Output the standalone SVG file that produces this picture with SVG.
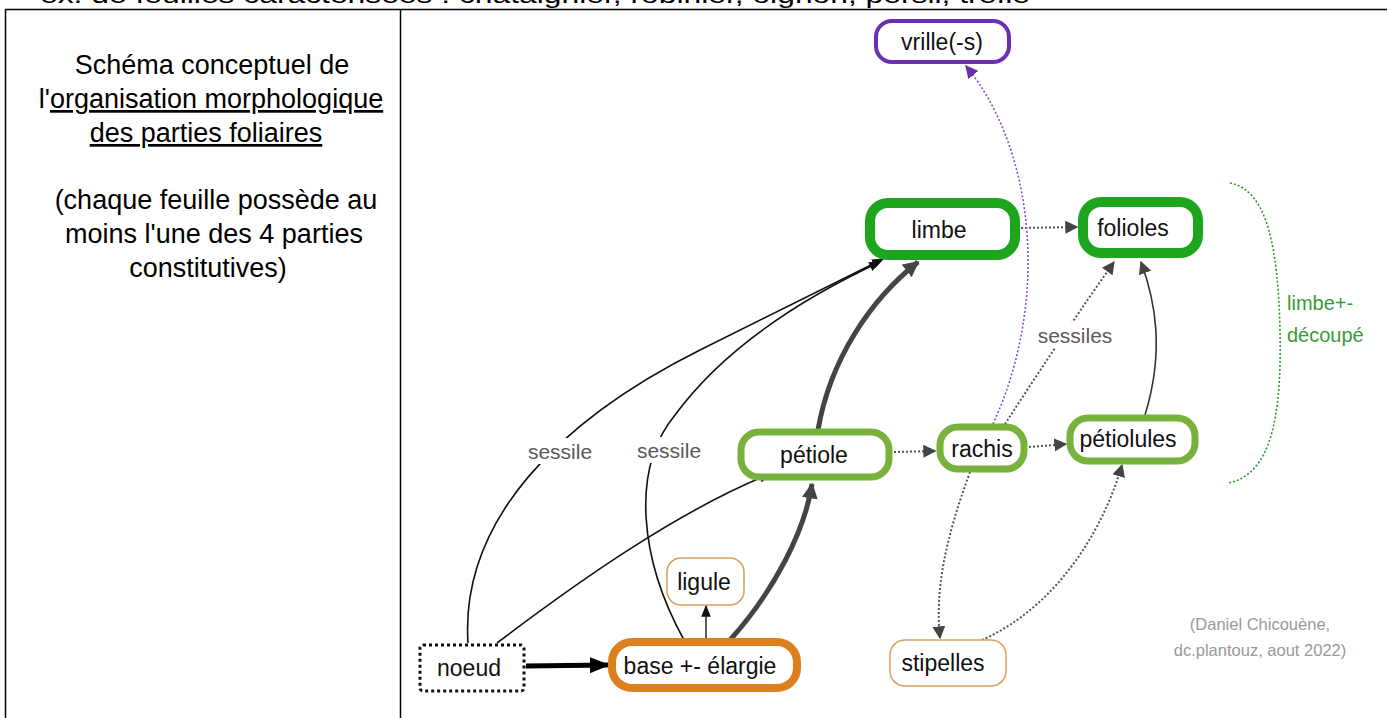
<svg xmlns="http://www.w3.org/2000/svg" width="1387" height="718" viewBox="0 0 1387 718">
<style>
.t{font-family:"Liberation Sans",Arial,sans-serif;}
.head{font-size:24px;fill:#000;}
.lft{font-size:27px;fill:#000;text-anchor:middle;}
.nt{font-size:23px;fill:#111;text-anchor:middle;}
.lbl{font-size:21px;fill:#5a5a5a;text-anchor:middle;}
.grn{font-size:20px;fill:#3a9a3a;}
.cred{font-size:16.5px;fill:#999;text-anchor:middle;}
.e{fill:none;}
.thin{stroke:#111;stroke-width:1.6;}
.thick{stroke:#444;stroke-width:5;}
.dot{stroke:#555;stroke-width:2;stroke-dasharray:2 2;}
</style>
<defs>
<marker id="ah" viewBox="0 0 10 10" refX="9" refY="5" markerWidth="12" markerHeight="12" markerUnits="userSpaceOnUse" orient="auto"><path d="M0,1 L10,5 L0,9 z" fill="#111"/></marker>
<marker id="ahg" viewBox="0 0 10 10" refX="9" refY="5" markerWidth="16" markerHeight="16" markerUnits="userSpaceOnUse" orient="auto"><path d="M0,0 L10,5 L0,10 z" fill="#444"/></marker>
<marker id="ahd" viewBox="0 0 10 10" refX="9" refY="5" markerWidth="13" markerHeight="13" markerUnits="userSpaceOnUse" orient="auto"><path d="M0,0 L10,5 L0,10 z" fill="#444"/></marker>
<marker id="ahb" viewBox="0 0 10 10" refX="9" refY="5" markerWidth="20" markerHeight="20" markerUnits="userSpaceOnUse" orient="auto"><path d="M0,1 L10,5 L0,9 z" fill="#000"/></marker>
<marker id="ahp" viewBox="0 0 10 10" refX="9" refY="5" markerWidth="13" markerHeight="13" markerUnits="userSpaceOnUse" orient="auto"><path d="M0,0 L10,5 L0,10 z" fill="#6a2fb0"/></marker>
</defs>
<rect width="1387" height="718" fill="#fff"/>
<!-- table -->
<g id="table">
<text class="t head" x="40" y="3" textLength="990" lengthAdjust="spacingAndGlyphs">ex. de feuilles caractérisées : châtaignier, robinier, oignon, persil, trèfle</text>
<line x1="5" y1="9.5" x2="1387" y2="9.5" stroke="#000" stroke-width="1.5"/>
<line x1="5.5" y1="9" x2="5.5" y2="718" stroke="#000" stroke-width="1.5"/>
<line x1="400.5" y1="9" x2="400.5" y2="718" stroke="#000" stroke-width="1.5"/>
</g>
<g id="intro" class="t lft">
<text x="212" y="74">Schéma conceptuel de</text>
<text x="211" y="108">l'<tspan text-decoration="underline">organisation morphologique</tspan></text>
<text x="206" y="142" text-decoration="underline">des parties foliaires</text>
<text x="216" y="209">(chaque feuille possède au</text>
<text x="214" y="243">moins l'une des 4 parties</text>
<text x="208" y="277">constitutives)</text>
</g>
<!-- connectors -->
<g id="connectors">
<path class="e thin" d="M468,643 C460,520 560,420 700,350 C780,310 840,280 883,259" marker-end="url(#ah)"/>
<path class="e thin" d="M684,640 C640,560 630,470 675,415 C730,340 820,290 880,262" marker-end="url(#ah)"/>
<path class="e thin" d="M497,643 C580,580 680,510 770,474" marker-end="url(#ah)"/>
<path class="e" stroke="#333" stroke-width="1.6" d="M706,640 L706,606" marker-end="url(#ah)"/>
<path class="e" stroke="#000" stroke-width="5" d="M526,666 L608,665" marker-end="url(#ahb)"/>
<path class="e thick" d="M730,640 C775,590 805,530 812,484" marker-end="url(#ahg)"/>
<path class="e thick" d="M818,430 C830,360 870,300 918,262" marker-end="url(#ahg)"/>
<path class="e dot" d="M894,452 L935,451" marker-end="url(#ahd)"/>
<path class="e dot" d="M1029,447 L1066,444" marker-end="url(#ahd)"/>
<path class="e dot" d="M1021,228 L1077,227" marker-end="url(#ahd)"/>
<path class="e dot" d="M1005,424 C1040,370 1080,310 1114,262" marker-end="url(#ahd)"/>
<path class="e" stroke="#333" stroke-width="1.6" d="M1145,415 C1165,350 1155,300 1141,262" marker-end="url(#ahd)"/>
<path class="e" stroke="#8a4fc8" stroke-width="1.6" stroke-dasharray="2 2" d="M993,424 C1050,300 1035,150 966,66" marker-end="url(#ahp)"/>
<path class="e dot" d="M970,472 C945,540 935,590 940,638" marker-end="url(#ahd)"/>
<path class="e dot" d="M982,640 C1050,610 1100,540 1122,465" marker-end="url(#ahd)"/>
<path class="e" stroke="#2a9a2a" stroke-width="1.6" stroke-dasharray="2 2" d="M1230,183 C1268,190 1278,250 1280,330 C1282,420 1270,475 1228,483"/>
<rect x="520" y="438" width="80" height="26" fill="#fff"/>
<text class="t lbl" x="560" y="459">sessile</text>
<rect x="630" y="437" width="80" height="26" fill="#fff"/>
<text class="t lbl" x="669" y="458">sessile</text>
<rect x="1032" y="322" width="86" height="26" fill="#fff"/>
<text class="t lbl" x="1075" y="343">sessiles</text>
</g>
<!-- nodes -->
<g id="vrille"><rect x="876" y="21" width="133" height="41" rx="16" fill="#fff" stroke="#6a2fb0" stroke-width="4"/><text class="t nt" x="942" y="50">vrille(-s)</text></g>
<g id="limbe"><rect x="870" y="203" width="145" height="52" rx="18" fill="#fff" stroke="#1ea51e" stroke-width="10"/><text class="t nt" x="939" y="238">limbe</text></g>
<g id="folioles"><rect x="1083" y="202" width="115" height="51" rx="18" fill="#fff" stroke="#1ea51e" stroke-width="10"/><text class="t nt" x="1133" y="236">folioles</text></g>
<g id="petiole"><rect x="741" y="432" width="148" height="45" rx="18" fill="#fff" stroke="#78b13c" stroke-width="7"/><text class="t nt" x="814" y="463">pétiole</text></g>
<g id="rachis"><rect x="940" y="427" width="84" height="42" rx="18" fill="#fff" stroke="#78b13c" stroke-width="7"/><text class="t nt" x="982" y="457">rachis</text></g>
<g id="petiolules"><rect x="1070" y="418" width="125" height="43" rx="18" fill="#fff" stroke="#78b13c" stroke-width="7"/><text class="t nt" x="1128" y="447">pétiolules</text></g>
<g id="ligule"><rect x="667" y="558" width="77" height="47" rx="14" fill="#fff" stroke="#d8a060" stroke-width="1.5"/><text class="t nt" x="704" y="590">ligule</text></g>
<g id="base"><rect x="612" y="642" width="185" height="46" rx="20" fill="#fff" stroke="#de7f1e" stroke-width="8"/><text class="t nt" x="700" y="674">base +- élargie</text></g>
<g id="noeud"><rect x="420" y="645" width="104" height="46" rx="3" fill="#fff" stroke="#111" stroke-width="3" stroke-dasharray="3 3"/><text class="t nt" x="469" y="676">noeud</text></g>
<g id="stipelles"><rect x="890" y="640" width="116" height="46" rx="15" fill="#fff" stroke="#d8a060" stroke-width="1.5"/><text class="t nt" x="943" y="671">stipelles</text></g>
<g id="decoupe"><text class="t grn" x="1287" y="310">limbe+-</text><text class="t grn" x="1287" y="342">découpé</text></g>
<g id="credit"><text class="t cred" x="1260" y="630">(Daniel Chicouène,</text><text class="t cred" x="1260" y="656">dc.plantouz, aout 2022)</text></g>
</svg>
